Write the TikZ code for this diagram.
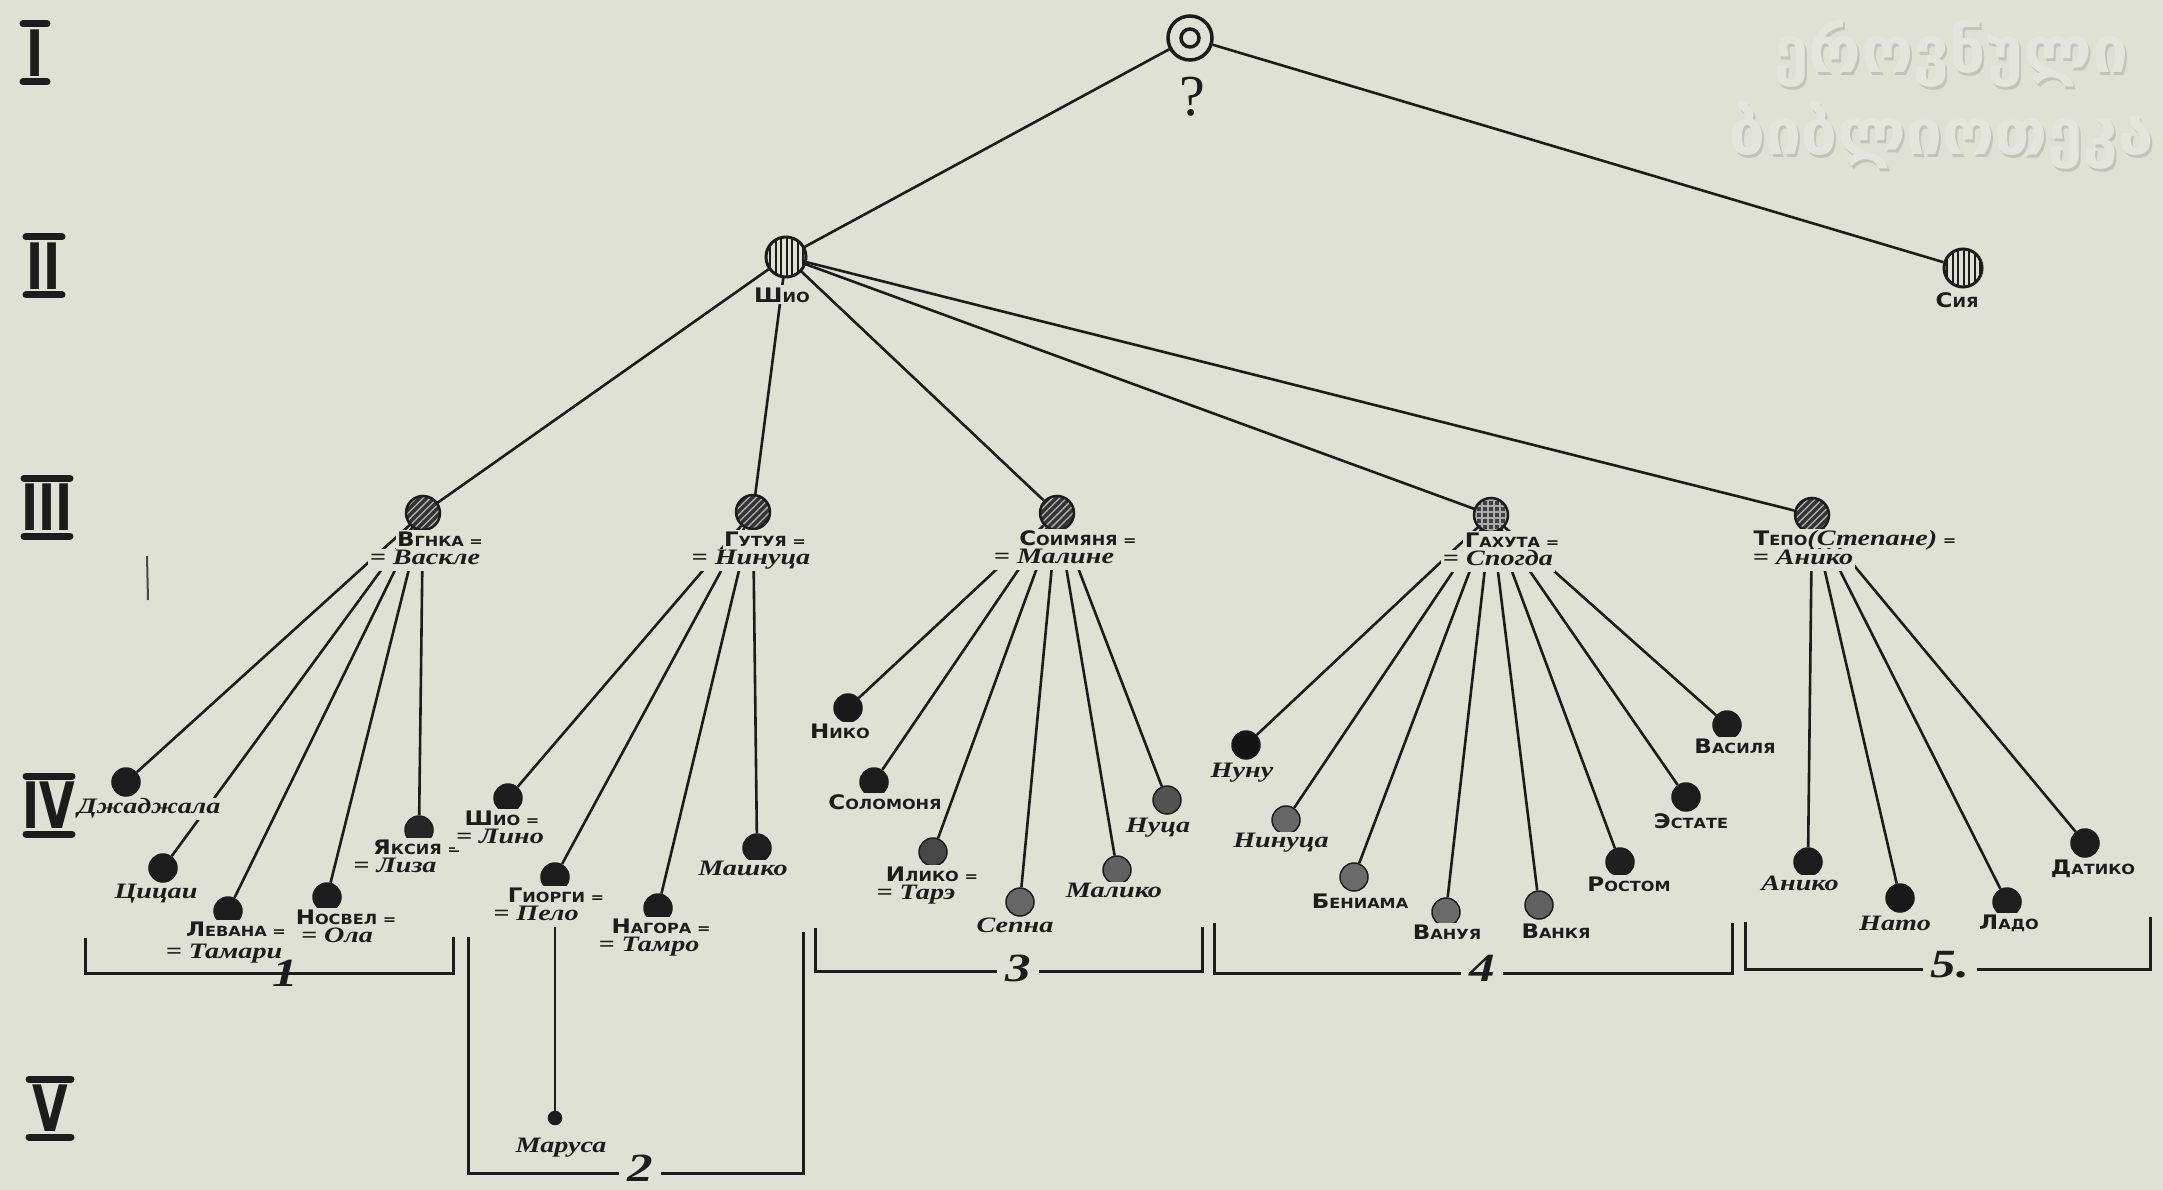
\documentclass[tikz,border=0pt]{standalone}
\usepackage{fontspec}
\setmainfont{Liberation Serif}
\newfontfamily\curfam[FakeStretch=1.28]{Liberation Serif}
\newfontfamily\skfam[FakeStretch=1.15]{DejaVu Sans}
\newfontfamily\romfam[FakeStretch=0.72]{DejaVu Sans}
\newfontfamily\geofam{DejaVu Sans}
\usetikzlibrary{patterns.meta}
\pgfdeclarelayer{bglayer}
\pgfdeclarelayer{edgelayer}
\pgfsetlayers{bglayer,edgelayer,main}
\definecolor{paper}{RGB}{222,225,212}
\definecolor{ink}{RGB}{28,28,28}
\definecolor{wmdark}{RGB}{194,197,186}
\definecolor{wmlight}{RGB}{228,230,221}
\newcommand\sk[2]{{\fontsize{20}{20}\selectfont #1}{\fontsize{14}{14}\selectfont #2}}
\newcommand\cu[1]{{\curfam\bfseries\itshape\fontsize{22}{22}\selectfont #1}}
\begin{document}
\begin{tikzpicture}[x=1pt,y=-1pt,
  lbl/.style={fill=paper, inner sep=1.5pt, text=ink, anchor=base},
  cur/.style={lbl, font=\curfam\bfseries\itshape\fontsize{22}{22}\selectfont, text height=14pt, text depth=5pt},
  scl/.style={lbl, font=\skfam\bfseries\fontsize{14}{14}\selectfont, text height=15pt, text depth=1pt},
  grp/.style={lbl, inner xsep=8pt, font=\curfam\itshape\bfseries\fontsize{40}{40}\selectfont, text height=10pt, text depth=2pt},
  pdot/.style={circle, draw=ink, fill=ink, line width=1.5pt, minimum size=28pt, inner sep=0pt},
  gdot/.style={pdot, fill=#1},
  hdot/.style={circle, draw=ink, line width=2.5pt, minimum size=34pt, inner sep=0pt,
     preaction={fill=black!80}, pattern={Lines[angle=45,distance=5pt,line width=1.3pt]}, pattern color=gray!60},
  xdot/.style={circle, draw=ink, line width=2.5pt, minimum size=34pt, inner sep=0pt,
     preaction={fill=black!75}, pattern={Hatch[distance=6pt,line width=1.2pt]}, pattern color=gray!65},
  vdot/.style={circle, draw=ink, line width=3pt, minimum size=#1, inner sep=0pt,
     preaction={fill=paper}, pattern={Lines[angle=90,distance=5.5pt,line width=2pt]}, pattern color=ink},
  conn/.style={draw=ink, line width=2.6pt},
  brk/.style={draw=ink, line width=3pt},
  rom/.style={font=\romfam\bfseries\fontsize{64}{64}\selectfont, inner sep=0pt, text=ink},
  rbar/.style={draw=ink, line width=7pt, line cap=round},
  wm/.style={anchor=base west, inner sep=0pt, font=\geofam\bfseries\fontsize{64}{64}\selectfont},
]
\useasboundingbox (0,0) rectangle (2163,1190);
\begin{pgfonlayer}{bglayer}
  \fill[paper] (0,0) rectangle (2163,1190);
\end{pgfonlayer}

% watermark
\begin{scope}
  \clip (0,0) rectangle (2163,1190);
  \node[wm, text=wmdark] (wm1s) at (1775,76) {ეროვნული};
  \node[wm, text=wmlight] (wm1) at (1773,73) {ეროვნული};
  \node[wm, text=wmdark] (wm2s) at (1731,158) {ბიბლიოთეკა};
  \node[wm, text=wmlight] (wm2) at (1729,155) {ბიბლიოთეკა};
\end{scope}

% generation numerals
\node[rom] (r1) at (35,53) {I};
\draw[rbar] (r1) ++(-12,-29) -- ++(24,0);
\draw[rbar] (r1) ++(-12,29) -- ++(24,0);
\node[rom] (r2) at (44,266) {II};
\draw[rbar] (r2) ++(-18,-29) -- ++(36,0);
\draw[rbar] (r2) ++(-18,29) -- ++(36,0);
\node[rom] (r3) at (47,507) {III};
\draw[rbar] (r3) ++(-23,-29) -- ++(46,0);
\draw[rbar] (r3) ++(-23,29) -- ++(46,0);
\node[rom] (r4) at (49,805) {IV};
\draw[rbar] (r4) ++(-23,-29) -- ++(46,0);
\draw[rbar] (r4) ++(-23,29) -- ++(46,0);
\node[rom] (r5) at (50,1108) {V};
\draw[rbar] (r5) ++(-21,-29) -- ++(42,0);
\draw[rbar] (r5) ++(-21,29) -- ++(42,0);
\draw[ink!80, line width=2pt] (147,556) -- (148,600);

% top
\node[circle, draw=ink, line width=3.5pt, minimum size=44pt, inner sep=0pt, fill=paper,
  path picture={\draw[ink, line width=3.5pt] (path picture bounding box.center) circle (9pt);}] (q) at (1190,38) {};
\node[lbl, font=\fontsize{58}{58}\selectfont] (qm) at (1192,116) {?};

% generation II
\node[vdot=40pt] (shio) at (786,257) {};
\node[scl] (lshio) at (782,302) {\sk{Ш}{ИО}};
\node[vdot=38pt] (siya) at (1963,268) {};
\node[scl] (lsiya) at (1957,308) {\sk{С}{ИЯ}};

% generation III
\node[hdot] (vg) at (423,513) {};
\node[hdot] (gu) at (753,512) {};
\node[hdot] (so) at (1057,513) {};
\node[xdot] (ga) at (1491,515) {};
\node[hdot] (te) at (1812,515) {};

% generation IV
\node[pdot] (dj) at (126,782) {};
\node[pdot] (ci) at (163,868) {};
\node[pdot] (le) at (228,911) {};
\node[pdot] (no) at (327,897) {};
\node[gdot=black!85] (ya) at (419,830) {};
\node[pdot] (sh2) at (508,798) {};
\node[pdot] (gi) at (555,877) {};
\node[pdot] (na) at (658,908) {};
\node[gdot=black!88] (ma) at (757,848) {};
\node[pdot, minimum size=13pt] (mr) at (555,1118) {};
\node[gdot=black!90] (ni) at (848,708) {};
\node[pdot] (sl) at (874,782) {};
\node[gdot=black!72] (il) at (933,852) {};
\node[gdot=black!60] (se) at (1020,902) {};
\node[gdot=black!62] (mk) at (1117,870) {};
\node[gdot=black!68] (nc) at (1167,800) {};
\node[gdot=black!92] (nn) at (1246,745) {};
\node[gdot=black!60] (nz) at (1286,820) {};
\node[gdot=black!58] (be) at (1354,877) {};
\node[gdot=black!58] (vn) at (1446,912) {};
\node[gdot=black!62] (vk) at (1539,905) {};
\node[gdot=black!88] (ro) at (1620,862) {};
\node[pdot] (es) at (1686,797) {};
\node[pdot] (va) at (1727,725) {};
\node[pdot] (an) at (1808,862) {};
\node[gdot=black!90] (nt) at (1900,898) {};
\node[gdot=black!88] (la) at (2007,902) {};
\node[pdot] (da) at (2085,843) {};

% connectors
\begin{pgfonlayer}{edgelayer}
  \draw[conn] (q) -- (shio);
  \draw[conn] (q) -- (siya);
  \foreach \c in {vg,gu,so,ga,te} \draw[conn] (shio) -- (\c);
  \foreach \c in {dj,ci,le,no,ya} \draw[conn] (vg) -- (\c);
  \foreach \c in {sh2,gi,na,ma} \draw[conn] (gu) -- (\c);
  \draw[conn, line width=2pt] (gi) -- (mr);
  \foreach \c in {ni,sl,il,se,mk,nc} \draw[conn] (so) -- (\c);
  \foreach \c in {nn,nz,be,vn,vk,ro,es,va} \draw[conn] (ga) -- (\c);
  \foreach \c in {an,nt,la,da} \draw[conn] (te) -- (\c);
  % family brackets
  \draw[brk] (85,938) -- (85,973) -- (453,973) -- (453,937);
  \draw[brk] (468,937) -- (468,1173) -- (803,1173) -- (803,932);
  \draw[brk] (815,928) -- (815,971) -- (1202,971) -- (1202,927);
  \draw[brk] (1214,923) -- (1214,973) -- (1732,973) -- (1732,923);
  \draw[brk] (1745,922) -- (1745,969) -- (2150,969) -- (2150,917);
\end{pgfonlayer}

% generation III labels
\node[scl] (vgA) at (440,546) {\sk{В}{ГНКА} =};
\node[cur] (vgB) at (425,564) {= Васкле};
\node[scl] (guA) at (765,546) {\sk{Г}{УТУЯ} =};
\node[cur] (guB) at (751,564) {= Нинуца};
\node[scl] (soA) at (1078,545) {\sk{С}{ОИМЯНЯ} =};
\node[cur] (soB) at (1054,563) {= Малине};
\node[scl] (gaA) at (1512,547) {\sk{Г}{АХУТА} =};
\node[cur] (gaB) at (1498,565) {= Спогда};
\node[scl] (teA) at (1855,545) {\sk{Т}{ЕПО}\cu{(Степане)} =};
\node[cur] (teB) at (1803,564) {= Анико};

% generation IV labels
\node[cur] (ldj) at (149,813) {Джаджала};
\node[cur] (lci) at (156,898) {Цицаи};
\node[scl] (leA) at (236,936) {\sk{Л}{ЕВАНА} =};
\node[cur] (leB) at (224,958) {= Тамари};
\node[scl] (noA) at (346,924) {\sk{Н}{ОСВЕЛ} =};
\node[cur] (noB) at (337,942) {= Ола};
\node[scl] (yaA) at (417,854) {\sk{Я}{КСИЯ} =};
\node[cur] (yaB) at (395,872) {= Лиза};
\node[scl] (shA) at (502,825) {\sk{Ш}{ИО} =};
\node[cur] (shB) at (500,843) {= Лино};
\node[scl] (giA) at (556,902) {\sk{Г}{ИОРГИ} =};
\node[cur] (giB) at (536,920) {= Пело};
\node[scl] (naA) at (661,933) {\sk{Н}{АГОРА} =};
\node[cur] (naB) at (649,951) {= Тамро};
\node[cur] (lma) at (743,875) {Машко};
\node[cur] (lmr) at (561,1152) {Маруса};
\node[scl] (lni) at (840,738) {\sk{Н}{ИКО}};
\node[scl] (lsl) at (885,809) {\sk{С}{ОЛОМОНЯ}};
\node[scl] (ilA) at (932,881) {\sk{И}{ЛИКО} =};
\node[cur] (ilB) at (916,899) {= Тарэ};
\node[cur] (lse) at (1015,932) {Сепна};
\node[cur] (lmk) at (1114,897) {Малико};
\node[cur] (lnc) at (1158,832) {Нуца};
\node[cur] (lnn) at (1242,777) {Нуну};
\node[cur] (lnz) at (1281,847) {Нинуца};
\node[scl] (lbe) at (1360,908) {\sk{Б}{ЕНИАМА}};
\node[scl] (lvn) at (1447,939) {\sk{В}{АНУЯ}};
\node[scl] (lvk) at (1556,938) {\sk{В}{АНКЯ}};
\node[scl] (lro) at (1629,891) {\sk{Р}{ОСТОМ}};
\node[scl] (les) at (1691,828) {\sk{Э}{СТАТЕ}};
\node[scl] (lva) at (1735,753) {\sk{В}{АСИЛЯ}};
\node[cur] (lan) at (1800,890) {Анико};
\node[cur] (lnt) at (1895,930) {Нато};
\node[scl] (lla) at (2009,929) {\sk{Л}{АДО}};
\node[scl] (lda) at (2093,874) {\sk{Д}{АТИКО}};

% family numbers
\node[grp] (g1) at (285,986) {1};
\node[grp] (g2) at (640,1181) {2};
\node[grp] (g3) at (1018,981) {3};
\node[grp] (g4) at (1482,981) {4};
\node[grp] (g5) at (1950,977) {5.};
\end{tikzpicture}
\end{document}
